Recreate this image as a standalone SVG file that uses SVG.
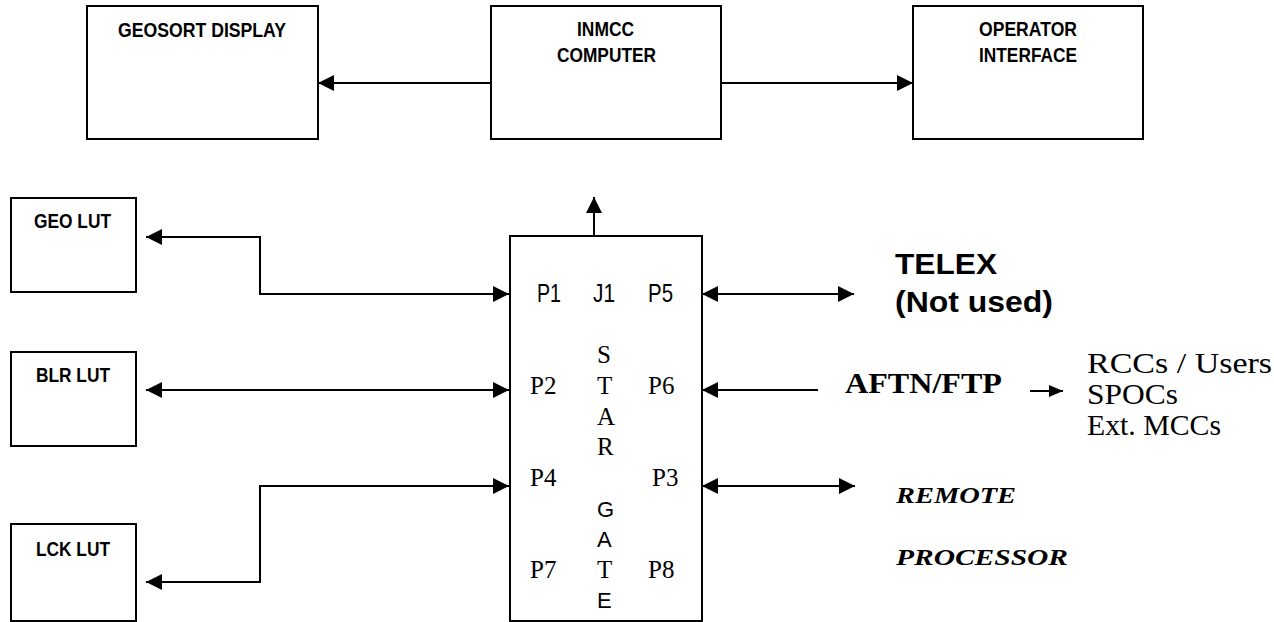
<svg xmlns="http://www.w3.org/2000/svg" width="1274" height="622" viewBox="0 0 1274 622">
<style>
.box{fill:#fff;stroke:#000;stroke-width:2}
.ln{fill:none;stroke:#000;stroke-width:2}
.lbl{font-family:"Liberation Sans",Arial,sans-serif;font-weight:bold;font-size:21px;fill:#000}
.ps{font-family:"Liberation Sans",Arial,sans-serif;font-size:22px;fill:#000}
.pj{font-family:"Liberation Sans",Arial,sans-serif;font-size:25px;fill:#000}
.pt{font-family:"Liberation Serif","Times New Roman",serif;font-size:25px;fill:#000}
.big{font-family:"Liberation Sans",Arial,sans-serif;font-weight:bold;font-size:30px;fill:#000}
.tb{font-family:"Liberation Serif","Times New Roman",serif;font-weight:bold;font-size:30px;fill:#000}
.tr{font-family:"Liberation Serif","Times New Roman",serif;font-size:30px;fill:#000}
.rp{font-family:"Liberation Serif","Times New Roman",serif;font-weight:bold;font-style:italic;font-size:24px;fill:#000}
</style>
<defs>
<marker id="ah" markerUnits="userSpaceOnUse" markerWidth="16" markerHeight="16" refX="16" refY="8" orient="auto-start-reverse" viewBox="0 0 16 16">
<path d="M0,0 L16,8 L0,16 z" fill="#000"/>
</marker>
<marker id="ahs" markerUnits="userSpaceOnUse" markerWidth="14" markerHeight="12" refX="14" refY="6" orient="auto" viewBox="0 0 14 12">
<path d="M0,0 L14,6 L0,12 z" fill="#000"/>
</marker>
</defs>

<g id="geosort">
<rect class="box" x="87" y="6" width="231" height="133"/>
<text class="lbl" x="118" y="37" textLength="168" lengthAdjust="spacingAndGlyphs">GEOSORT DISPLAY</text>
</g>
<g id="inmcc">
<rect class="box" x="491" y="6" width="230" height="133"/>
<text class="lbl" x="577" y="36" textLength="57" lengthAdjust="spacingAndGlyphs">INMCC</text>
<text class="lbl" x="557" y="62" textLength="99" lengthAdjust="spacingAndGlyphs">COMPUTER</text>
</g>
<g id="operator">
<rect class="box" x="913" y="6" width="230" height="133"/>
<text class="lbl" x="979" y="36" textLength="98" lengthAdjust="spacingAndGlyphs">OPERATOR</text>
<text class="lbl" x="979" y="62" textLength="98" lengthAdjust="spacingAndGlyphs">INTERFACE</text>
</g>
<g id="geolut">
<rect class="box" x="11" y="198" width="125" height="94"/>
<text class="lbl" x="34" y="228" textLength="77" lengthAdjust="spacingAndGlyphs">GEO LUT</text>
</g>
<g id="blrlut">
<rect class="box" x="11" y="352" width="125" height="94"/>
<text class="lbl" x="36" y="382" textLength="74" lengthAdjust="spacingAndGlyphs">BLR LUT</text>
</g>
<g id="lcklut">
<rect class="box" x="11" y="524" width="125" height="97"/>
<text class="lbl" x="36" y="556" textLength="74" lengthAdjust="spacingAndGlyphs">LCK LUT</text>
</g>
<g id="stargate">
<rect class="box" x="510" y="236" width="192" height="385"/>
<text class="pj" x="537" y="302" textLength="24" lengthAdjust="spacingAndGlyphs">P1</text>
<text class="pj" x="593" y="302" textLength="22" lengthAdjust="spacingAndGlyphs">J1</text>
<text class="pj" x="648" y="302" textLength="25" lengthAdjust="spacingAndGlyphs">P5</text>
<text class="pt" x="597" y="363">S</text>
<text class="pt" x="530" y="394">P2</text>
<text class="pt" x="597" y="394">T</text>
<text class="pt" x="648" y="394">P6</text>
<text class="pt" x="597" y="425">A</text>
<text class="pt" x="597" y="455">R</text>
<text class="pt" x="530" y="486">P4</text>
<text class="pt" x="652" y="486">P3</text>
<text class="ps" x="597" y="517">G</text>
<text class="ps" x="597" y="547">A</text>
<text class="pt" x="530" y="578">P7</text>
<text class="pt" x="597" y="578">T</text>
<text class="pt" x="648" y="578">P8</text>
<text class="ps" x="597" y="608">E</text>
</g>
<g id="telex">
<text class="big" x="895" y="274" textLength="102" lengthAdjust="spacingAndGlyphs">TELEX</text>
<text class="big" x="895" y="312" textLength="158" lengthAdjust="spacingAndGlyphs">(Not used)</text>
</g>
<g id="aftn">
<text class="tb" x="845" y="393" textLength="157" lengthAdjust="spacingAndGlyphs">AFTN/FTP</text>
</g>
<g id="users">
<text class="tr" x="1087" y="373" textLength="185" lengthAdjust="spacingAndGlyphs">RCCs / Users</text>
<text class="tr" x="1087" y="404" textLength="91" lengthAdjust="spacingAndGlyphs">SPOCs</text>
<text class="tr" x="1087" y="435" textLength="134" lengthAdjust="spacingAndGlyphs">Ext. MCCs</text>
</g>
<g id="remote">
<text class="rp" x="896" y="503" textLength="120" lengthAdjust="spacingAndGlyphs">REMOTE</text>
<text class="rp" x="896" y="565" textLength="172" lengthAdjust="spacingAndGlyphs">PROCESSOR</text>
</g>
<g id="connectors">
<path class="ln" d="M491,83 H318" marker-end="url(#ah)"/>
<path class="ln" d="M721,83 H913" marker-end="url(#ah)"/>
<path class="ln" d="M594,236 V197" marker-end="url(#ah)"/>
<path class="ln" d="M146,237 H260 V294 H509" marker-start="url(#ah)" marker-end="url(#ah)"/>
<path class="ln" d="M146,390 H509" marker-start="url(#ah)" marker-end="url(#ah)"/>
<path class="ln" d="M509,486 H260 V582 H146" marker-start="url(#ah)" marker-end="url(#ah)"/>
<path class="ln" d="M702,294 H854" marker-start="url(#ah)" marker-end="url(#ah)"/>
<path class="ln" d="M818,390 H702" marker-end="url(#ah)"/>
<path class="ln" d="M702,486 H855" marker-start="url(#ah)" marker-end="url(#ah)"/>
<path class="ln" d="M1030,391 H1063" stroke-width="1.5" marker-end="url(#ahs)"/>
</g>
</svg>
